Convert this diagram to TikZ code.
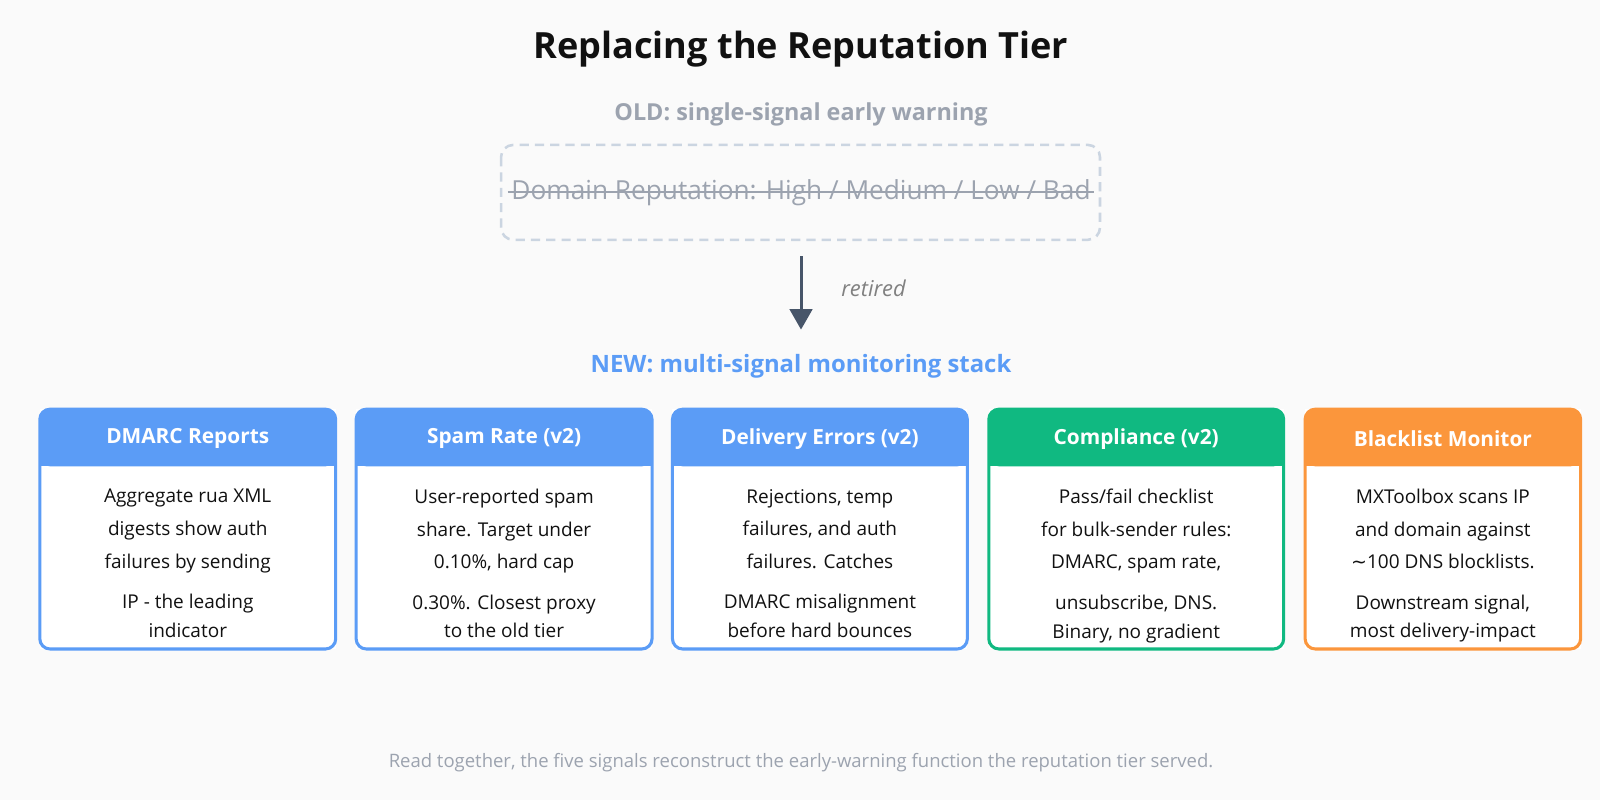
\documentclass[tikz,border=0pt]{standalone}
\usepackage{fontspec}
\setmainfont{Open Sans}
\newfontfamily\djv{DejaVu Sans}
\usetikzlibrary{arrows.meta}
\definecolor{bg}{HTML}{FAFAFA}
\definecolor{bl}{HTML}{5B9CF6}
\definecolor{gr}{HTML}{10B981}
\definecolor{og}{HTML}{FB963C}
\definecolor{gy}{HTML}{9CA3AF}
\definecolor{dashc}{HTML}{CBD5E1}
\definecolor{dk}{HTML}{475569}
\definecolor{tx}{HTML}{111111}
\newcommand{\lbody}[5]{#1\\#2\\#3\\[8pt]#4\\[-4pt]#5}
\begin{document}
\begin{tikzpicture}[x=1bp,y=-1bp,
  hdr/.style={font=\fontsize{20.5}{24}\selectfont\bfseries, text=white},
  body/.style={font=\fontsize{18.7}{32}\selectfont, text=tx, align=center, anchor=north},
  card/.style={line width=3bp, rounded corners=10bp}]
\useasboundingbox (0,0) rectangle (1568,784);
\fill[bg] (0,0) rectangle (1600,800);
\node[font=\fontsize{35.5}{40}\selectfont\bfseries, text=tx] (title) at (785,48) {Replacing the Reputation Tier};
\node[font=\fontsize{23}{26}\selectfont\bfseries, text=gy] (old) at (785,112) {OLD: single-signal early warning};
\draw[dashc, line width=2.5bp, dash pattern=on 9bp off 6bp, rounded corners=12bp] (491,142) rectangle (1078,235);
\node[font=\fontsize{25.8}{28}\selectfont, text=gy] (dom) at (785,189) {Domain Reputation: High / Medium / Low / Bad};
\draw[gy, line width=1.5bp] (dom.west|-0,188) -- (dom.east|-0,188);
\coordinate (a1) at (785,251);
\coordinate (a2) at (785,323);
\draw[dk, line width=3bp, -{Triangle[length=20bp,width=22bp]}] (a1) -- (a2);
\node[font=\fontsize{21.5}{22}\selectfont\itshape, text=gray] (ret) at (856,283) {retired};
\node[font=\fontsize{23.5}{26}\selectfont\bfseries, text=bl] (new) at (785,359) {NEW: multi-signal monitoring stack};
\foreach \x/\w/\c/\h/\n/\a/\b/\cc/\d/\e in {
  39/290/bl/DMARC Reports/c1/Aggregate rua XML/digests show auth/failures by sending/IP - the leading/indicator,
  349/290/bl/Spam Rate (v2)/c2/User-reported spam/share. Target under/{0.10\%, hard cap}/{0.30\%. Closest proxy}/to the old tier,
  659/289/bl/Delivery Errors (v2)/c3/{Rejections, temp}/{failures, and auth}/failures. Catches/DMARC misalignment/before hard bounces,
  969/289/gr/Compliance (v2)/c4/{Pass/fail checklist}/for bulk-sender rules:/{DMARC, spam rate,}/{unsubscribe, DNS.}/{Binary, no gradient},
  1279/270/og/Blacklist Monitor/c5/MXToolbox scans IP/and domain against/{{\djv\char"223C}100 DNS blocklists.}/{Downstream signal,}/most delivery-impact}{
  \fill[white] (\x,401) rectangle ++(\w,235);
  \fill[\c, rounded corners=10bp] (\x,401) rectangle ++(\w,56);
  \fill[\c] (\x,440) rectangle ++(\w,17);
  \draw[\c, card] (\x,401) rectangle ++(\w,235);
  \node[hdr] (\n h) at (\x+\w/2,430) {\h};
  \node[body] (\n b) at (\x+\w/2,476) {\lbody{\a}{\b}{\cc}{\d}{\e}};
}
\node[font=\fontsize{18.2}{20}\selectfont, text=gy] (foot) at (785,747) {Read together, the five signals reconstruct the early-warning function the reputation tier served.};
\end{tikzpicture}
\end{document}
